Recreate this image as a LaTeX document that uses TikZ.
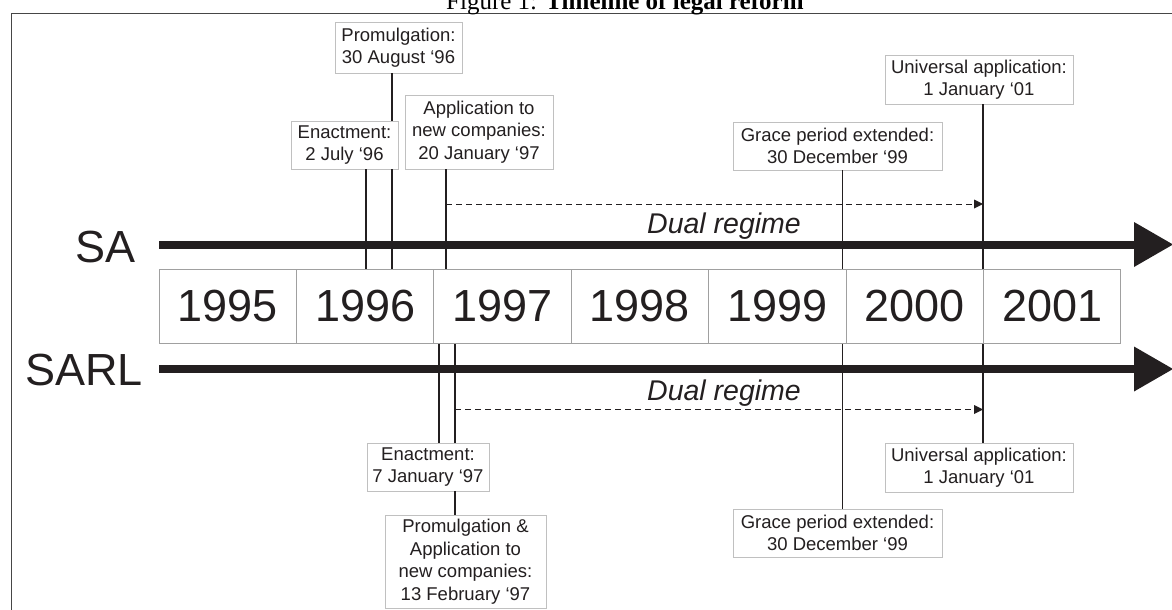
\documentclass[tikz,border=0pt]{standalone}
\usepackage{fontspec}
\setmainfont{Liberation Serif}
\setsansfont{Liberation Sans}
\usepackage{tikz}
\usetikzlibrary{arrows.meta,positioning}
\definecolor{tlink}{RGB}{35,31,32}
\definecolor{tlframe}{RGB}{70,70,70}
\definecolor{tlboxline}{RGB}{192,192,192}
\definecolor{tlyearline}{RGB}{160,160,160}

\begin{document}
\begin{tikzpicture}[x=1pt,y=-1pt,
  tlbox/.style={draw=tlboxline,line width=0.8pt,fill=white,align=center,inner sep=0pt,
    font=\sffamily\fontsize{18.5}{22.5}\selectfont,text=tlink},
  tlyear/.style={draw=tlyearline,line width=0.8pt,fill=white,inner sep=0pt,
    minimum width=137.4pt,minimum height=74.5pt,font=\sffamily\fontsize{45}{54}\selectfont,text=tlink},
  tllabel/.style={inner sep=0pt,anchor=base west,font=\sffamily\fontsize{45}{54}\selectfont,text=tlink},
  tldual/.style={inner sep=0pt,anchor=base,font=\sffamily\itshape\fontsize{28.5}{34}\selectfont,text=tlink},
  tlaxis/.style={line width=8pt,tlink,-{Triangle[length=39pt,width=45pt,line width=0pt]}},
  tlmark/.style={line width=1.6pt,tlink},
  tlregime/.style={dash pattern=on 6pt off 4pt,line width=0.8pt,tlink,
    -{Triangle[length=9pt,width=9pt,line width=0pt]}}
]
  \useasboundingbox (0,0) rectangle (1172,610);

  % frame and caption
  \draw[tlframe,line width=1.5pt] (11.7,640) -- (11.7,13.3) -- (1190,13.3);
  \node[inner sep=0pt,anchor=base west,font=\rmfamily\fontsize{25}{30}\selectfont] (title) at (446,10)
    {Figure 1: \textbf{Timeline of legal reform}};

  % years
  \foreach \yr [count=\i from 0] in {1995,1996,1997,1998,1999,2000,2001}
    \node[tlyear] (y\yr) at ({227.7+137.4*\i},306.4) {\yr};

  % company forms
  \node[tllabel] (salabel) at (75,262) {SA};
  \node[tllabel] (sarllabel) at (25,385) {SARL};

  % SA events
  \node[tlbox,minimum width=127pt,minimum height=51pt] (sapromul) at (398.5,47.5) {Promulgation:\\30 August ‘96};
  \node[tlbox,minimum width=107pt,minimum height=48pt] (saenact) at (344.5,145) {Enactment:\\2 July ‘96};
  \node[tlbox,minimum width=148pt,minimum height=74pt] (saapply) at (479,132) {Application to\\new companies:\\20 January ‘97};
  \node[tlbox,minimum width=209pt,minimum height=48pt] (sagrace) at (837.5,146) {Grace period extended:\\30 December ‘99};
  \node[tlbox,minimum width=188pt,minimum height=49pt] (sauniv) at (979,79.5) {Universal application:\\1 January ‘01};

  % SARL events
  \node[tlbox,minimum width=122pt,minimum height=48pt] (sarlenact) at (428,467) {Enactment:\\7 January ‘97};
  \node[tlbox,minimum width=161pt,minimum height=93pt] (sarlpromul) at (465.5,561.5) {Promulgation \&\\Application to\\new companies:\\13 February ‘97};
  \node[tlbox,minimum width=209pt,minimum height=48pt] (sarlgrace) at (837.5,533) {Grace period extended:\\30 December ‘99};
  \node[tlbox,minimum width=188pt,minimum height=49pt] (sarluniv) at (979,467.5) {Universal application:\\1 January ‘01};

  % dates
  \coordinate (jul96) at (366,0);
  \coordinate (aug96) at (392,0);
  \coordinate (jan97a) at (446,0);
  \coordinate (jan97b) at (439,0);
  \coordinate (feb97) at (455,0);
  \coordinate (dec99) at (842.5,0);
  \coordinate (jan01) at (983,0);

  % SA marks
  \draw[tlmark] (saenact.south -| jul96) -- (y1996.north -| jul96);
  \draw[tlmark] (sapromul.south -| aug96) -- (saenact.north -| aug96);
  \draw[tlmark] (saenact.south -| aug96) -- (y1996.north -| aug96);
  \draw[tlmark] (saapply.south -| jan97a) -- (y1997.north -| jan97a);
  \draw[tlmark] (sagrace.south -| dec99) -- (y2000.north -| dec99);
  \draw[tlmark] (sauniv.south -| jan01) -- (y2001.north -| jan01);

  % SARL marks
  \draw[tlmark] (y1997.south -| jan97b) -- (sarlenact.north -| jan97b);
  \draw[tlmark] (y1997.south -| feb97) -- (sarlenact.north -| feb97);
  \draw[tlmark] (sarlenact.south -| feb97) -- (sarlpromul.north -| feb97);
  \draw[tlmark] (y2000.south -| dec99) -- (sarlgrace.north -| dec99);
  \draw[tlmark] (y2001.south -| jan01) -- (sarluniv.north -| jan01);

  % timelines
  \coordinate (sastart) at (159,244.5);
  \coordinate (saend) at (1173,244.5);
  \coordinate (sarlstart) at (159,369);
  \coordinate (sarlend) at (1173,369);
  \draw[tlaxis] (sastart) -- (saend);
  \draw[tlaxis] (sarlstart) -- (sarlend);

  % dual regime
  \coordinate (saregstart) at (446,204);
  \coordinate (saregend) at (983,204);
  \coordinate (sarlregstart) at (455,409.5);
  \coordinate (sarlregend) at (983,409.5);
  \draw[tlregime] (saregstart) -- (saregend);
  \draw[tlregime] (sarlregstart) -- (sarlregend);
  \node[tldual] (sadual) at (724,233) {Dual regime};
  \node[tldual] (sarldual) at (724,400) {Dual regime};
\end{tikzpicture}
\end{document}
